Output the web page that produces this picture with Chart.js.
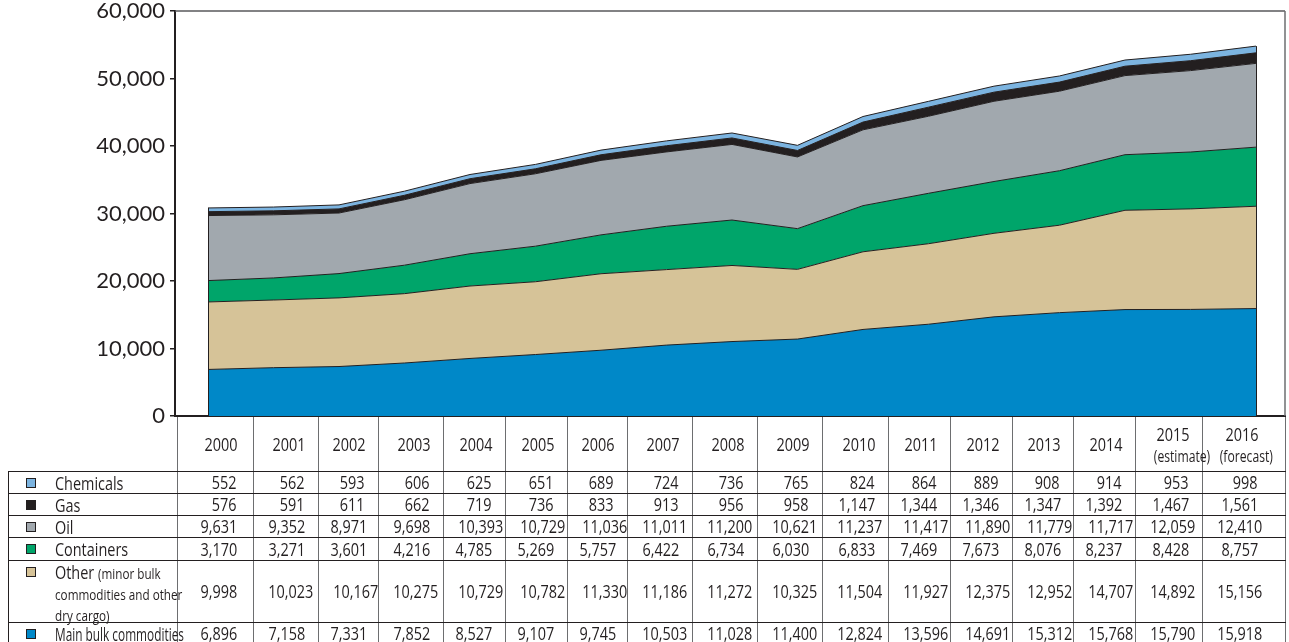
<!DOCTYPE html>
<html>
<head>
<meta charset="utf-8">
<script src="https://cdn.jsdelivr.net/npm/chart.js@4/dist/chart.umd.min.js"></script>
<style>
  html, body { margin: 0; padding: 0; background: #fff; }
  #wrap { position: relative; width: 1289px; height: 642px; overflow: hidden; }
  #c { position: absolute; left: 0; top: 0; }
  #tbl {
    position: absolute; left: 8px; top: 417px; width: 1277px;
    border-collapse: collapse; table-layout: fixed;
    font-family: "Open Sans", sans-serif;
    font-size: 19px; color: #231f20;
  }
  #tbl td { padding: 0; white-space: nowrap; overflow: visible; }
  #tbl td.v { text-align: right; padding-right: 13px; border-left: 1.5px solid #6d6e70; border-bottom: 1.5px solid #231f20; vertical-align: middle; line-height: 20px; }
  #tbl td.v.first { padding-right: 16px; }
  #tbl td.v.last { padding-right: 27px; border-right: 1.5px solid #6d6e70; }
  #tbl td.lab { border-left: 1.5px solid #231f20; border-bottom: 1.5px solid #231f20; position: relative; line-height: 20px; }
  #tbl tr.head td.lab { border-left: none; }
  .t { display: inline-block; transform: scaleX(0.76); transform-origin: right center; }
  .tl { position: absolute; left: 46px; top: 0px; transform: scaleX(0.78); transform-origin: left center; font-size: 18.5px; }
  .tl.tight { transform: scaleX(0.64); }
  .sw { position: absolute; left: 17px; top: 6px; width: 8px; height: 8px; border: 1px solid #231f20; }
  .small { font-size: 15px; }
  .note { font-size: 16px; line-height: 18px; }
</style>
</head>
<body>
<div id="wrap">
  <canvas id="c" width="1289" height="642"></canvas>
  <table id="tbl"></table>
</div>
<script>
// ---- data ----
const years = [2000, 2001, 2002, 2003, 2004, 2005, 2006, 2007, 2008, 2009, 2010, 2011, 2012, 2013, 2014, 2015, 2016];
const yearNotes = ['', '', '', '', '', '', '', '', '', '', '', '', '', '', '', '(estimate)', '(forecast)'];
const chemicals = [552, 562, 593, 606, 625, 651, 689, 724, 736, 765, 824, 864, 889, 908, 914, 953, 998];
const gas = [576, 591, 611, 662, 719, 736, 833, 913, 956, 958, 1147, 1344, 1346, 1347, 1392, 1467, 1561];
const oil = [9631, 9352, 8971, 9698, 10393, 10729, 11036, 11011, 11200, 10621, 11237, 11417, 11890, 11779, 11717, 12059, 12410];
const containers = [3170, 3271, 3601, 4216, 4785, 5269, 5757, 6422, 6734, 6030, 6833, 7469, 7673, 8076, 8237, 8428, 8757];
const other = [9998, 10023, 10167, 10275, 10729, 10782, 11330, 11186, 11272, 10325, 11504, 11927, 12375, 12952, 14707, 14892, 15156];
const mainBulk = [6896, 7158, 7331, 7852, 8527, 9107, 9745, 10503, 11028, 11400, 12824, 13596, 14691, 15312, 15768, 15790, 15918];
const yTicks = [0, 10000, 20000, 30000, 40000, 50000, 60000];

// ---- series definitions (bottom first) ----
const series = [
  { key: 'main', label: 'Main bulk commodities', values: mainBulk, color: '#0088c8' },
  { key: 'other', label: 'Other', values: other, color: '#d6c398' },
  { key: 'containers', label: 'Containers', values: containers, color: '#00a56a' },
  { key: 'oil', label: 'Oil', values: oil, color: '#a1a8ae' },
  { key: 'gas', label: 'Gas', values: gas, color: '#231f20' },
  { key: 'chemicals', label: 'Chemicals', values: chemicals, color: '#7cb4e0' }
];
const fmt = v => v.toLocaleString('en-US');

const datasets = series.map((s, i) => ({
  label: s.label,
  data: years.map((y, j) => ({ x: y, y: s.values[j] })),
  backgroundColor: s.color,
  borderColor: '#231f20',
  borderWidth: 1,
  pointRadius: 0,
  tension: 0,
  fill: i === 0 ? 'origin' : '-1'
}));

const frame = {
  id: 'frame',
  afterDatasetsDraw(chart) {
    const { ctx, chartArea, scales } = chart;
    const xs = scales.x, ys = scales.y;
    ctx.save();
    ctx.strokeStyle = '#231f20';
    ctx.lineWidth = 1;
    [0, years.length - 1].forEach(j => {
      const tot = series.reduce((a, s) => a + s.values[j], 0);
      const px = Math.round(xs.getPixelForValue(years[j])) + 0.5;
      ctx.beginPath();
      ctx.moveTo(px, ys.getPixelForValue(0));
      ctx.lineTo(px, ys.getPixelForValue(tot));
      ctx.stroke();
    });
    ctx.strokeStyle = '#58595b';
    ctx.lineWidth = 1.5;
    ctx.beginPath();
    ctx.moveTo(chartArea.left, chartArea.top);
    ctx.lineTo(chartArea.right, chartArea.top);
    ctx.stroke();
    ctx.strokeStyle = '#6d6e70';
    ctx.beginPath();
    ctx.moveTo(chartArea.right, chartArea.top);
    ctx.lineTo(chartArea.right, chartArea.bottom);
    ctx.stroke();
    ctx.restore();
  }
};

new Chart(document.getElementById('c'), {
  type: 'line',
  data: { datasets },
  options: {
    responsive: false,
    animation: false,
    devicePixelRatio: 1,
    layout: { padding: { top: 11, right: 4, bottom: 226, left: 0 } },
    plugins: { legend: { display: false }, tooltip: { enabled: false } },
    scales: {
      x: {
        type: 'linear',
        min: 1999.496,
        max: 2016.443,
        ticks: { display: false },
        grid: { display: false },
        border: { display: true, color: '#231f20', width: 2 },
        afterFit(s) { s.height = 0; s.paddingLeft = 0; s.paddingRight = 0; }
      },
      y: {
        stacked: true,
        min: 0,
        max: 60000,
        afterBuildTicks(s) { s.ticks = yTicks.map(v => ({ value: v })); },
        ticks: {
          color: '#231f20',
          font: { family: 'Lato', size: 22 },
          padding: 5,
          callback: v => fmt(v)
        },
        grid: { drawOnChartArea: false, drawTicks: true, tickLength: 5, color: '#231f20', lineWidth: 1.5 },
        border: { display: true, color: '#231f20', width: 2 },
        afterFit(s) { s.width = 175; s.paddingTop = 0; s.paddingBottom = 0; }
      }
    }
  },
  plugins: [frame]
});

// ---- data table ----
const colWidths = [169, 76, 65, 60, 65, 62, 62, 60, 65, 65, 65, 66, 62, 62, 61, 62, 67, 83];
const rowHeights = { head: 54, chemicals: 22, gas: 22, oil: 22, containers: 23, other: 62, main: 22 };
const tbl = document.getElementById('tbl');
let html = '<colgroup>' + colWidths.map(w => `<col style="width:${w}px">`).join('') + '</colgroup>';
html += `<tr class="head" style="height:${rowHeights.head}px"><td class="lab"></td>`;
years.forEach((y, j) => {
  const cls = 'v' + (j === 0 ? ' first' : '') + (j === years.length - 1 ? ' last' : '');
  const inner = yearNotes[j]
    ? `<span class="t">${y}</span><br><span class="t note">${yearNotes[j]}</span>`
    : `<span class="t">${y}</span>`;
  html += `<td class="${cls}"${yearNotes[j] ? ' style="line-height:21px;padding-top:2px"' : ''}>${inner}</td>`;
});
html += '</tr>';
const rowOrder = ['chemicals', 'gas', 'oil', 'containers', 'other', 'main'];
rowOrder.forEach(k => {
  const s = series.find(d => d.key === k);
  let labelHtml = s.label;
  if (k === 'other') {
    labelHtml = 'Other <span class="small">(minor bulk</span><br><span class="small">commodities and other</span><br><span class="small">dry cargo)</span>';
  }
  const lt = k === 'other' ? 'line-height:19px;top:1px' : 'top:1px';
  const tcls = k === 'main' ? 'tl tight' : 'tl';
  html += `<tr style="height:${rowHeights[k]}px"><td class="lab"><span class="sw" style="background:${s.color}"></span><span class="${tcls}" style="${lt}">${labelHtml}</span></td>`;
  s.values.forEach((v, j) => {
    const cls = 'v' + (j === 0 ? ' first' : '') + (j === years.length - 1 ? ' last' : '');
    html += `<td class="${cls}"><span class="t">${fmt(v)}</span></td>`;
  });
  html += '</tr>';
});
tbl.innerHTML = html;
</script>
</body>
</html>
